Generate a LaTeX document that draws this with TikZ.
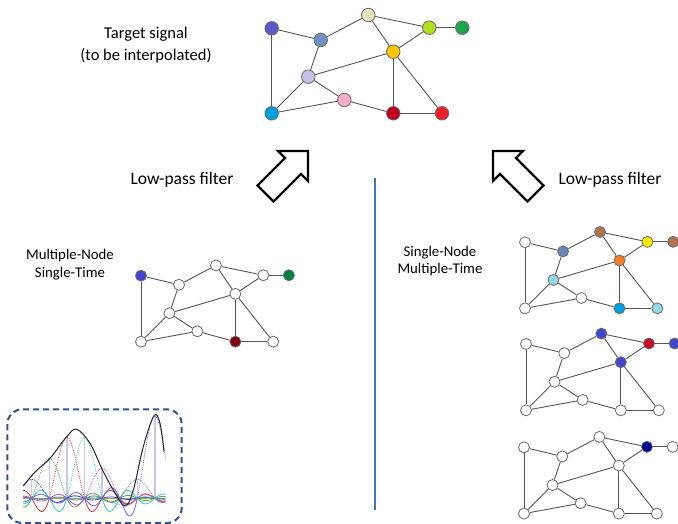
\documentclass[tikz,border=0pt]{standalone}
\usepackage{fontspec}
\setmainfont{Carlito}
\definecolor{edgec}{RGB}{85,85,85}
\definecolor{vbord}{RGB}{105,105,105}
\definecolor{vline}{RGB}{68,114,196}
\definecolor{boxc}{RGB}{47,82,143}
\definecolor{stemc}{RGB}{200,200,228}
% top graph colours
\definecolor{tA}{RGB}{90,90,205}
\definecolor{tB}{RGB}{110,145,190}
\definecolor{tC}{RGB}{236,226,186}
\definecolor{tD}{RGB}{180,225,30}
\definecolor{tE}{RGB}{30,165,75}
\definecolor{tF}{RGB}{255,195,0}
\definecolor{tG}{RGB}{196,192,232}
\definecolor{tH}{RGB}{246,172,202}
\definecolor{tI}{RGB}{0,160,230}
\definecolor{tJ}{RGB}{195,0,30}
\definecolor{tK}{RGB}{236,30,40}
% other graphs
\definecolor{lA}{RGB}{65,65,210}
\definecolor{lE}{RGB}{0,130,60}
\definecolor{lJ}{RGB}{130,0,20}
\definecolor{rsteel}{RGB}{105,135,185}
\definecolor{rbrown}{RGB}{180,115,80}
\definecolor{ryellow}{RGB}{255,235,0}
\definecolor{rorange}{RGB}{245,125,35}
\definecolor{rlblue}{RGB}{150,215,230}
\definecolor{rcyan}{RGB}{0,160,230}
\definecolor{rblue}{RGB}{65,70,210}
\definecolor{rred}{RGB}{200,10,40}
\definecolor{rnavy}{RGB}{0,0,150}
% sinc colours
\definecolor{s1}{RGB}{50,50,220}
\definecolor{s2}{RGB}{80,170,80}
\definecolor{s3}{RGB}{220,50,60}
\definecolor{s4}{RGB}{60,200,200}
\definecolor{s5}{RGB}{190,80,200}
\definecolor{s6}{RGB}{60,180,170}
\definecolor{s7}{RGB}{130,130,130}
\definecolor{s8}{RGB}{100,100,230}
\definecolor{olivec}{RGB}{175,175,60}

\def\coltA{tA}\def\coltB{tB}\def\coltC{tC}\def\coltD{tD}\def\coltE{tE}\def\coltF{tF}
\def\coltG{tG}\def\coltH{tH}\def\coltI{tI}\def\coltJ{tJ}\def\coltK{tK}
\def\collA{lA}\def\collE{lE}\def\collJ{lJ}
\def\colraB{rsteel}\def\colraC{rbrown}\def\colraD{ryellow}\def\colraE{rbrown}
\def\colraF{rorange}\def\colraG{rlblue}\def\colraJ{rcyan}\def\colraK{rlblue}
\def\colrbC{rblue}\def\colrbD{rred}\def\colrbE{rblue}\def\colrbF{rblue}
\def\colrcD{rnavy}

\tikzset{
  vtx/.style={circle, draw=vbord, line width=0.8pt, inner sep=0pt, fill=white},
  edg/.style={draw=edgec, line width=0.9pt},
  biglbl/.style={font=\fontsize{16.5}{21.5}\selectfont, align=center, inner sep=0pt},
  lplbl/.style={font=\fontsize{17.5}{21}\selectfont, align=center, inner sep=0pt},
  sublbl/.style={font=\fontsize{14.8}{17.5}\selectfont, align=center, inner sep=0pt},
  barrow/.style={draw=black, fill=white, line width=2.2pt, line join=miter},
}

\newcommand\netgraph[4]{%
  \begin{scope}[shift={(#2)}, scale=#3]
    \foreach \n/\px/\py in {A/0/0,B/49/11.7,C/96.6/-13.3,D/157.6/-0.6,E/190.6/-0.6,F/121.6/23.4,G/36.6/48.4,H/72.6/71.7,I/0/85,J/121.6/85,K/170.3/85}{%
      \ifcsname col#1\n\endcsname\edef\fc{\csname col#1\n\endcsname}\else\def\fc{white}\fi
      \node[vtx, minimum size=#4, fill=\fc] (#1\n) at (\px,\py) {};
    }
  \end{scope}
  \foreach \a/\b in {A/B,A/I,B/C,B/G,C/D,C/F,D/E,D/F,F/G,F/J,F/K,G/I,G/H,H/I,H/J,J/K}{%
    \draw[edg] (#1\a) -- (#1\b);
  }
}

\begin{document}
\begin{tikzpicture}[x=1pt, y=-1pt]
\useasboundingbox (0,0) rectangle (678,524);

% graphs
\netgraph{t}{271.7,28.3}{1}{13.5pt}
\netgraph{l}{141,275.7}{0.776}{11pt}
\netgraph{ra}{525,242.3}{0.777}{11pt}
\netgraph{rb}{526,344}{0.78}{11pt}
\netgraph{rc}{524,447.3}{0.78}{11pt}

% texts
\node[biglbl] (title) at (146,45) {Target signal\\(to be interpolated)};
\node[lplbl] (lpl) at (182,180) {Low-pass filter};
\node[lplbl] (lpr) at (610,180) {Low-pass filter};
\node[sublbl] (mnst) at (70,264.5) {Multiple-Node\\Single-Time};
\node[sublbl] (snmt) at (440,261) {Single-Node\\Multiple-Time};

% divider
\coordinate (vtop) at (375,178);
\coordinate (vbot) at (375,510);
\draw[vline, line width=1.3pt] (vtop) -- (vbot);

% block arrows
\draw[barrow] (308,151) -- (308,181) -- (301,174) -- (273.5,201.5) -- (257.5,185.5) -- (285,158) -- (278,151) -- cycle;
\draw[barrow] (493,151) -- (493,181) -- (500,174) -- (527.5,201.5) -- (543.5,185.5) -- (516,158) -- (523,151) -- cycle;

% dashed box with interpolation sketch
\draw[boxc, line width=2pt, dash pattern=on 6pt off 4pt, rounded corners=15pt] (7.3,409.3) rectangle (181.7,523);
\foreach \sx/\h in {31.7/19,49.3/40,66.9/61,84.5/61,102.1/30,137.3/19,154.9/82}{
  \draw[stemc, line width=1.4pt] (\sx,498.3) -- (\sx,498.3-\h);
}
\draw[olivec, line width=1.3pt] (23,498.3) -- (165,498.3);
\begin{scope}
  \clip (23,400) rectangle (165.5,524);
  \foreach \sx/\h/\c in {31.7/19/s1,49.3/40/s2,66.9/61/s3,84.5/61/s4,102.1/30/s5,119.7/-6/s6,137.3/19/s7,154.9/82/s8}{
    \draw[\c, line width=0.8pt, densely dotted] plot[domain=\sx-17.6:\sx+17.6, samples=40]
      (\x, {498.3-(\h)*sin((\x-\sx+0.01)*10.2273)/((\x-\sx+0.01)*0.178499)});
    \draw[\c, line width=0.8pt] plot[domain=\sx+17.6:\sx+140, samples=100]
      (\x, {498.3-(\h)*sin((\x-\sx)*10.2273)/((\x-\sx)*0.178499)});
    \draw[\c, line width=0.8pt] plot[domain=\sx-140:\sx-17.6, samples=100]
      (\x, {498.3-(\h)*sin((\x-\sx)*10.2273)/((\x-\sx)*0.178499)});
  }
\end{scope}
\draw[black!85, line width=1pt] plot[smooth, tension=0.6] coordinates {
  (23.3,486) (35,472) (50,458.3) (66.7,436.7) (76.7,429.3) (90,443.3) (101.7,468.3)
  (113.3,490) (125,506) (133.3,490) (143.3,446.7) (154,415.7) (160,423.3) (164,451.7)};
\end{tikzpicture}
\end{document}
